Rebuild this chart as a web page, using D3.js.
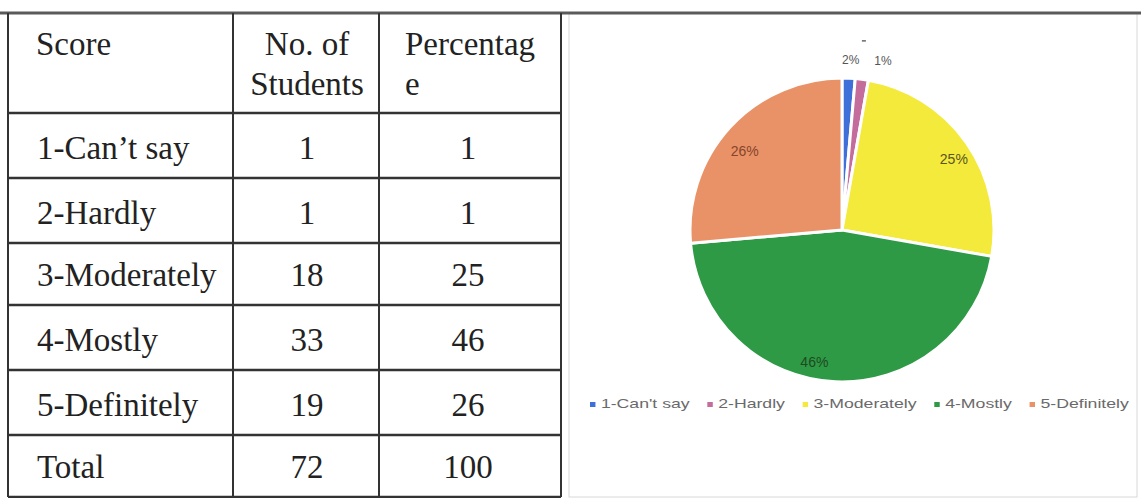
<!DOCTYPE html>
<html>
<head>
<meta charset="utf-8">
<script src="https://cdn.jsdelivr.net/npm/d3@7/dist/d3.min.js"></script>
<style>
  html, body { margin: 0; padding: 0; background: #fff; }
  svg { display: block; }
</style>
</head>
<body>
<svg id="chart" width="1141" height="498"></svg>
<script>
// ---- data ----
const scores = ["1-Can’t say", "2-Hardly", "3-Moderately", "4-Mostly", "5-Definitely"];
const students = [1, 1, 18, 33, 19];
const percentages = [1, 1, 25, 46, 26];
const totalLabel = "Total";
const totalStudents = 72;
const totalPercent = 100;
const headers = [["Score"], ["No. of", "Students"], ["Percentag", "e"]];
const legendLabels = ["1-Can't say", "2-Hardly", "3-Moderately", "4-Mostly", "5-Definitely"];
const pieLabels = ["2%", "1%", "25%", "46%", "26%"];
const colors = ["#3f6fd8", "#c46c9c", "#f3ea3c", "#2f9a45", "#e99268"];
const labelColors = ["#555", "#555", "#5a5520", "#1d4a22", "#86452a"];

const svg = d3.select("#chart");

// ---- table ----
const colEdges = [8, 233, 379, 561];
const rowEdges = [13, 113, 178, 243, 305, 370, 435, 497];
const serif = "'Liberation Serif', 'Times New Roman', serif";
const fs = 33;

// pie box
svg.append("rect").attr("x", 569).attr("y", 13).attr("width", 568).attr("height", 484)
  .attr("fill", "none").attr("stroke", "#d8d8d8").attr("stroke-width", 1);

// full-width top rule
svg.append("line").attr("x1", 0).attr("x2", 1141).attr("y1", 13).attr("y2", 13)
  .attr("stroke", "#5a5a5a").attr("stroke-width", 3);

const tbl = svg.append("g");
tbl.selectAll("line.h").data(rowEdges.slice(1)).join("line")
  .attr("x1", colEdges[0]).attr("x2", colEdges[3])
  .attr("y1", d => d).attr("y2", d => d)
  .attr("stroke", "#333").attr("stroke-width", 2.5);
tbl.selectAll("line.v").data(colEdges).join("line")
  .attr("x1", d => d).attr("x2", d => d)
  .attr("y1", rowEdges[0]).attr("y2", rowEdges[rowEdges.length - 1])
  .attr("stroke", "#333").attr("stroke-width", 2);

const textStyle = s => s.attr("font-family", serif).attr("font-size", fs).attr("fill", "#222");

// header
const hdrX = [36, (colEdges[1] + colEdges[2]) / 2 + 1, 405];
const hdrAnchor = ["start", "middle", "start"];
headers.forEach((lines, i) => {
  lines.forEach((ln, j) => {
    tbl.append("text").call(textStyle)
      .attr("x", hdrX[i]).attr("y", 55 + j * 40)
      .attr("text-anchor", hdrAnchor[i]).text(ln);
  });
});

// body rows
const rows = scores.map((s, i) => [s, students[i], percentages[i]]);
rows.push([totalLabel, totalStudents, totalPercent]);
const c2 = (colEdges[1] + colEdges[2]) / 2 + 1, c3 = (colEdges[2] + colEdges[3]) / 2 - 2;
rows.forEach((r, i) => {
  const base = rowEdges[i + 2] - 19;
  tbl.append("text").call(textStyle).attr("x", 37).attr("y", base).text(r[0]);
  tbl.append("text").call(textStyle).attr("x", c2).attr("y", base).attr("text-anchor", "middle").text(r[1]);
  tbl.append("text").call(textStyle).attr("x", c3).attr("y", base).attr("text-anchor", "middle").text(r[2]);
});

// ---- pie ----
const cx = 842, cy = 230, R = 152;
const pie = d3.pie().sort(null).value(d => d);
const arcs = pie(students);
const arc = d3.arc().innerRadius(0).outerRadius(R);
const g = svg.append("g").attr("transform", `translate(${cx},${cy})`);
g.selectAll("path").data(arcs).join("path")
  .attr("d", arc).attr("fill", (d, i) => colors[i])
  .attr("stroke", "#fff").attr("stroke-width", 3).attr("stroke-linejoin", "round");

const sans = "'Liberation Sans', Arial, sans-serif";
const inArc = d3.arc().innerRadius(R * 0.85).outerRadius(R * 0.85);
const outArc = d3.arc().innerRadius(R * 1.12).outerRadius(R * 1.12);
const lblDx = [10, 10, 6, -22, -2];
const lblDy = [1, 1, 4, 4, 10];
g.selectAll("text.lbl").data(arcs).join("text")
  .attr("font-family", sans).attr("font-size", (d, i) => i < 2 ? 12 : 14)
  .attr("fill", (d, i) => labelColors[i])
  .attr("text-anchor", (d, i) => i === 0 ? "end" : (i === 1 ? "start" : "middle"))
  .attr("dominant-baseline", "middle")
  .attr("transform", (d, i) => {
    const p = (i < 2 ? outArc : inArc).centroid(d);
    return `translate(${p[0] + lblDx[i]},${p[1] + lblDy[i]})`;
  })
  .text((d, i) => pieLabels[i]);

// small leader tick above the tiny slices
const tickArc = d3.arc().innerRadius(R * 1.255).outerRadius(R * 1.255);
const tp = tickArc.centroid(arcs[1]);
g.append("line").attr("x1", tp[0] - 5).attr("x2", tp[0] - 1).attr("y1", tp[1]).attr("y2", tp[1])
  .attr("stroke", "#666").attr("stroke-width", 1.5);

// ---- legend ----
const sx = 1.36;
const leg = svg.append("g").attr("transform", `translate(590,405) scale(${sx},1)`)
  .attr("font-family", sans).attr("font-size", 13).attr("fill", "#6a6a6a");
let lx = 0;
legendLabels.forEach((t, i) => {
  leg.append("rect").attr("x", lx).attr("y", -3).attr("width", 4).attr("height", 5).attr("fill", colors[i]);
  const tx = leg.append("text").attr("x", lx + 8).attr("y", 0).attr("dominant-baseline", "middle").text(t);
  lx += 8 + tx.node().getComputedTextLength() + 13;
});
</script>
</body>
</html>
